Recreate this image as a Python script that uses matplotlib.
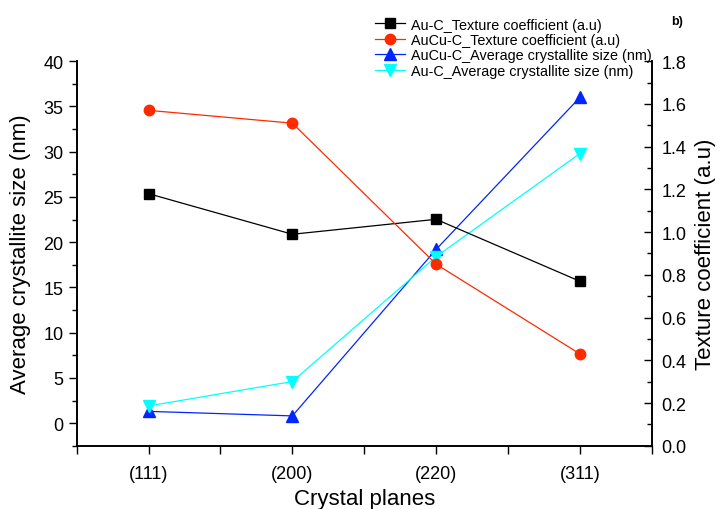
import matplotlib
matplotlib.use("Agg")
import matplotlib.pyplot as plt
from matplotlib.ticker import MultipleLocator
import numpy as np

plt.rcParams['font.family'] = ['Liberation Sans', 'DejaVu Sans']

planes = ["(111)", "(200)", "(220)", "(311)"]
au_tc = [1.18, 0.99, 1.06, 0.77]
aucu_tc = [1.57, 1.51, 0.85, 0.43]
aucu_size = [1.3, 0.8, 19.2, 36.0]
au_size = [1.9, 4.6, 18.4, 29.8]

x = np.arange(len(planes))

fig = plt.figure(figsize=(7.17, 5.10), dpi=100)
ax = fig.add_axes([0.107, 0.124, 0.802, 0.754])
ax2 = ax.twinx()

l3, = ax.plot(x, aucu_size, color='#0026ff', lw=0.9, marker='^', ms=8,
              label='AuCu-C_Average crystallite size (nm)')
l4, = ax.plot(x, au_size, color='#00ffff', lw=0.9, marker='v', ms=8,
              label='Au-C_Average crystallite size (nm)')
l1, = ax2.plot(x, au_tc, color='black', lw=0.9, marker='s', ms=6.5,
               label='Au-C_Texture coefficient (a.u)')
l2, = ax2.plot(x, aucu_tc, color='#ff2a00', lw=0.9, marker='o', ms=7.5,
               label='AuCu-C_Texture coefficient (a.u)')

ax.set_xlim(-0.5, 3.5)
ax.set_ylim(-2.5, 40)
ax2.set_ylim(0, 1.8)

ax.set_xticks(x)
ax.set_xticklabels(planes)
ax.xaxis.set_minor_locator(MultipleLocator(0.5))
ax.yaxis.set_major_locator(MultipleLocator(5))
ax.yaxis.set_minor_locator(MultipleLocator(2.5))
ax2.yaxis.set_major_locator(MultipleLocator(0.2))
ax2.yaxis.set_minor_locator(MultipleLocator(0.1))
ax2.yaxis.set_major_formatter(matplotlib.ticker.FormatStrFormatter('%.1f'))

ax.tick_params(axis='both', which='major', labelsize=13, direction='out', length=6, width=1)
ax.tick_params(axis='both', which='minor', direction='out', length=6, width=1)
ax.tick_params(axis='x', which='major', pad=8)
ax.tick_params(axis='y', which='minor', length=3.5)
ax2.tick_params(axis='y', which='major', labelsize=13, direction='in', length=6, width=1, pad=7)
ax2.tick_params(axis='y', which='minor', direction='in', length=3.5, width=1)

for a in (ax, ax2):
    a.spines['top'].set_visible(False)
    for s in ('left', 'right', 'bottom'):
        a.spines[s].set_linewidth(1.2)

ax.set_xlabel('Crystal planes', fontsize=16, labelpad=4)
ax.set_ylabel('Average crystallite size (nm)', fontsize=16, labelpad=9)
ax2.set_ylabel('Texture coefficient (a.u)', fontsize=16, labelpad=6)

fig.legend(handles=[l1, l2, l3, l4], loc='upper left', bbox_to_anchor=(0.515, 0.975),
           frameon=False, fontsize=10.4, handlelength=2.1, handletextpad=0.4,
           labelspacing=0.1, borderaxespad=0)

fig.text(0.945, 0.957, 'b)', fontsize=9, fontweight='bold', ha='center', va='center')

fig.savefig('out.png', dpi=100)
